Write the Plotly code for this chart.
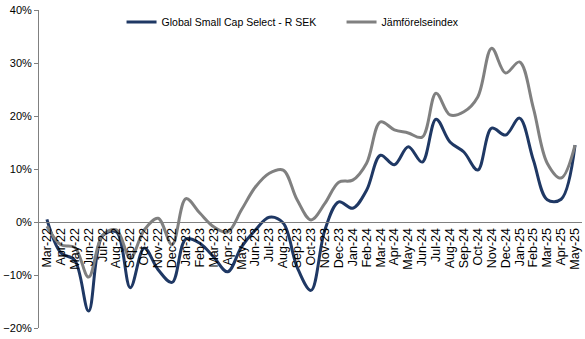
import plotly.graph_objects as go

months = ["Mar-22","Apr-22","May-22","Jun-22","Jul-22","Aug-22","Sep-22","Oct-22","Nov-22","Dec-22",
          "Jan-23","Feb-23","Mar-23","Apr-23","May-23","Jun-23","Jul-23","Aug-23","Sep-23","Oct-23",
          "Nov-23","Dec-23","Jan-24","Feb-24","Mar-24","Apr-24","May-24","Jun-24","Jul-24","Aug-24",
          "Sep-24","Oct-24","Nov-24","Dec-24","Jan-25","Feb-25","Mar-25","Apr-25","May-25"]

fund = [0.5, -5.8, -7.2, -16.8, -2.6, -1.9, -12.4, -4.9, -9.0, -11.4,
        -3.2, -4.0, -6.6, -9.4, -4.7, -1.5, 0.9, -0.2, -8.5, -12.9,
        -1.5, 3.8, 2.6, 6.0, 12.6, 10.8, 14.2, 11.3, 19.4, 15.1,
        13.2, 9.8, 17.7, 16.4, 19.6, 11.7, 4.2, 4.3, 14.5]

index = [-0.8, -4.3, -4.8, -10.4, -2.5, -1.5, -6.8, -1.5, 0.7, -4.3,
         4.4, 1.7, -0.9, -1.9, 2.3, 6.6, 9.2, 9.8, 4.2, 0.4,
         3.5, 7.5, 7.9, 11.1, 18.9, 17.4, 16.8, 16.0, 24.3, 20.2,
         20.8, 23.6, 32.8, 28.1, 30.2, 21.5, 11.1, 8.3, 14.5]

names = ["Global Small Cap Select - R SEK", "Jämförelseindex"]

fig = go.Figure()
fig.add_trace(go.Scatter(x=months, y=fund, name=names[0], mode="lines",
                         line=dict(color="#1F3864", width=3, shape="spline", smoothing=1.0)))
fig.add_trace(go.Scatter(x=months, y=index, name=names[1], mode="lines",
                         line=dict(color="#808080", width=3, shape="spline", smoothing=1.0)))

fig.update_layout(
    width=585, height=339,
    margin=dict(l=35, r=3, t=10, b=11),
    paper_bgcolor="white", plot_bgcolor="white",
    font=dict(family="Liberation Sans, Arial, sans-serif", size=11, color="#000000"),
    showlegend=True,
    legend=dict(orientation="h", x=0.152, y=0.962, xanchor="left", yanchor="middle",
                font=dict(size=10.5), bgcolor="rgba(0,0,0,0)", entrywidth=175, tracegroupgap=0),
)
fig.update_xaxes(
    type="category", range=[-0.57, 38.5],
    tickmode="linear", tick0=0, dtick=1,
    tickangle=-90, showgrid=False, zeroline=False,
    showline=True, linecolor="#808080", linewidth=1,
    anchor="free", position=1/3, ticks="", tickfont=dict(size=12.5),
)
fig.update_yaxes(
    range=[-20, 40], dtick=10, ticksuffix="%", showgrid=False, zeroline=False,
    showline=True, linecolor="#808080", linewidth=1, ticks="outside", ticklen=4,
    tickcolor="#808080", tickfont=dict(size=11),
)

fig.write_html("out.html")
